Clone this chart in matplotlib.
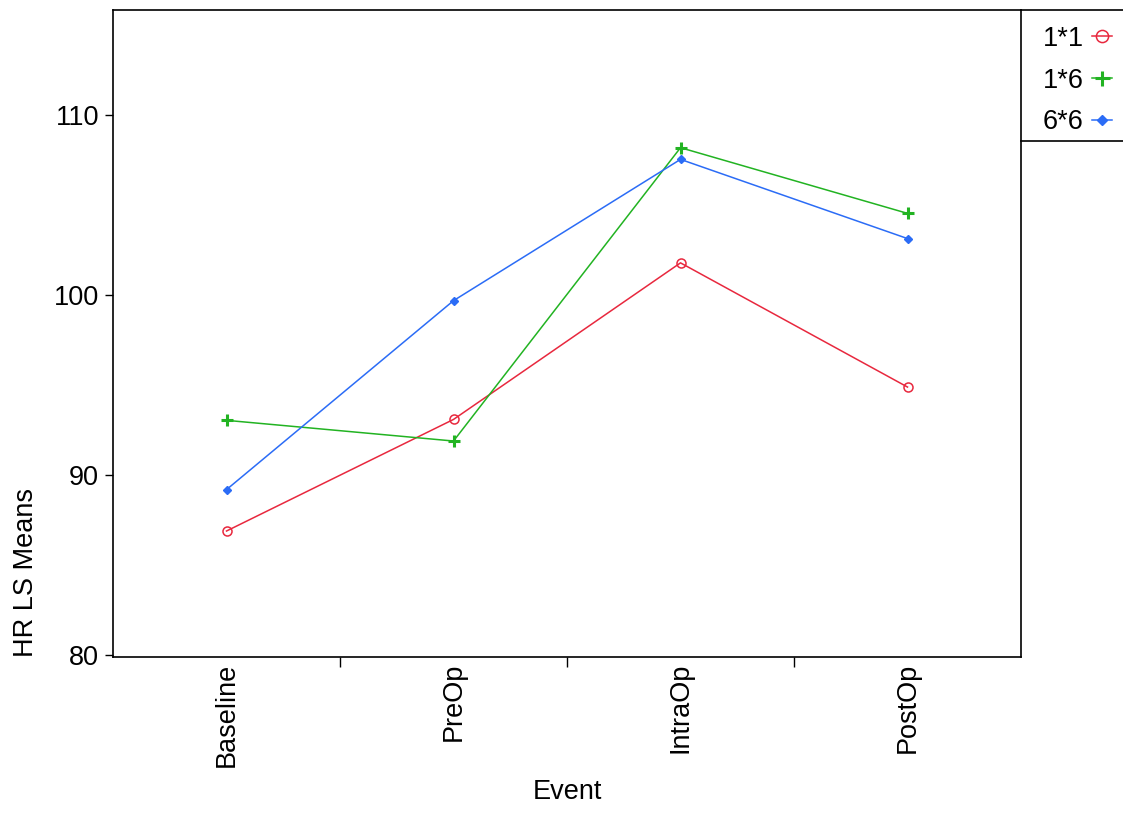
import matplotlib.pyplot as plt
from matplotlib.lines import Line2D

plt.rcParams['font.family'] = ['Liberation Sans', 'DejaVu Sans']

events = ['Baseline', 'PreOp', 'IntraOp', 'PostOp']
groups = ['1*1', '1*6', '6*6']
hr_11 = [86.9, 93.1, 101.8, 94.9]
hr_16 = [93.05, 91.9, 108.2, 104.55]
hr_66 = [89.2, 99.7, 107.55, 103.15]

colors = ['#E8283E', '#22B322', '#2B6CF6']
markers = ['o', 'P', 'D']
FS = 19.5

W, H = 1123, 817
fig = plt.figure(figsize=(W / 100, H / 100), dpi=100)
ax = fig.add_axes([113 / W, 1 - 657 / H, (1021 - 113) / W, (657 - 10) / H])

x = list(range(len(events)))
series = [hr_11, hr_16, hr_66]
handles = []
for vals, c, m, lab in zip(series, colors, markers, groups):
    if m == 'o':
        ln, = ax.plot(x, vals, color=c, lw=1.1, marker='o', ms=6.5, mfc='none', mec=c, mew=1.1, label=lab)
    elif m == 'P':
        ln, = ax.plot(x, vals, color=c, lw=1.1, marker='+', ms=8, mew=2.2, label=lab)
    else:
        ln, = ax.plot(x, vals, color=c, lw=1.1, marker='D', ms=4, mfc=c, mec=c, label=lab)
    handles.append(ln)

ax.set_xlim(-0.5, len(events) - 0.5)
ax.set_ylim(79.9, 115.85)
ax.set_yticks([80, 90, 100, 110])
ax.tick_params(axis='y', labelsize=FS, length=6, width=1, direction='out', pad=4)

# ticks at category boundaries, labels at category centres
ax.set_xticks([0.5, 1.5, 2.5])
ax.set_xticklabels([])
ax.set_xticks(x, minor=True)
ax.set_xticklabels(events, minor=True, rotation=90, fontsize=FS)
ax.tick_params(axis='x', which='major', length=7, width=1, direction='out')
ax.tick_params(axis='x', which='minor', length=0, pad=4)

ax.set_xlabel('Event', fontsize=FS, labelpad=9)
ax.set_ylabel('HR LS Means', fontsize=FS, loc='bottom', labelpad=11)

for s in ax.spines.values():
    s.set_linewidth(1.2)

# legend box outside on the right
leg = fig.legend(handles=handles, labels=groups, loc='upper right',
                 bbox_to_anchor=(1.0, 1 - 15 / H), frameon=False, markerfirst=False,
                 fontsize=FS, handlelength=0.75, handletextpad=0.3, labelspacing=0.58,
                 borderaxespad=0.0, markerscale=1.35)
fig.add_artist(Line2D([1021 / W, 1.0], [1 - 10 / H, 1 - 10 / H], color='black', lw=1.2))
fig.add_artist(Line2D([1021 / W, 1.0], [1 - 141 / H, 1 - 141 / H], color='black', lw=1.2))

fig.savefig('out.png', dpi=100)
